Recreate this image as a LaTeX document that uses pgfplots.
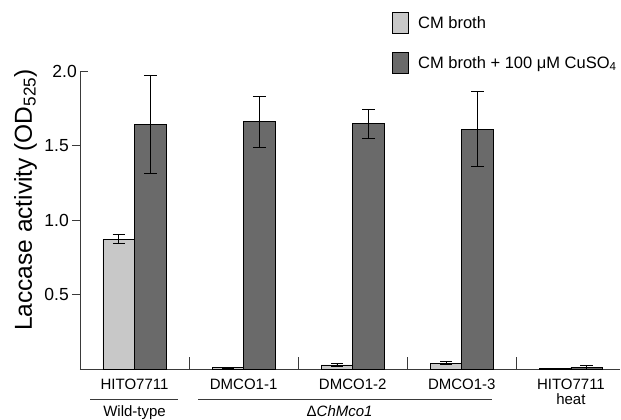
\documentclass[border=0pt]{standalone}
\usepackage{fontspec}
\setmainfont{Liberation Sans}
\usepackage{pgfplots}
\pgfplotsset{compat=1.18}
\definecolor{lightbar}{HTML}{C8C8C8}
\definecolor{darkbar}{HTML}{6A6A6A}
\definecolor{axisgray}{HTML}{3A3A3A}
\begin{document}
\begin{tikzpicture}
\begin{axis}[
  scale only axis, width=540pt, height=298pt,
  xmin=-0.5, xmax=4.45, ymin=0, ymax=2,
  axis lines=left,
  axis line style={-, axisgray, line width=0.8pt},
  every tick/.style={axisgray, line width=0.8pt},
  ytick={0.5,1,1.5}, yticklabels={0.5,1.0,1.5},
  extra y ticks={2}, extra y tick labels={2.0},
  extra y tick style={tick align=inside},
  /pgf/number format/assume math mode=true,
  y tick label style={font=\fontsize{17.5}{18}\selectfont, inner sep=0pt, xshift=-3pt},
  tick align=outside, major tick length=8pt,
  xtick={0,1,2,3,4},
  xticklabels={HITO7711,DMCO1-1,DMCO1-2,DMCO1-3,HITO7711\\heat},
  x tick label style={font=\fontsize{15}{15}\selectfont, align=center, anchor=north, inner sep=0pt, yshift=-2pt},
  major x tick style={draw=none},
  minor xtick={0.5,1.5,2.5,3.5}, minor tick length=12pt,
  minor x tick style={yshift=12pt},
  every axis y label/.style={at={(axis description cs:0,0.567)}, xshift=-48pt, rotate=90, anchor=base, font=\fontsize{24.5}{26}\selectfont},
  ylabel={Laccase activity (OD\textsubscript{525})},
  ybar=0pt, bar width=0.29,
  clip=false,
  legend style={draw=none, fill=none, inner sep=0pt, row sep=18pt,
    font=\fontsize{16.5}{17}\selectfont, at={(0.578,1.198)}, anchor=north west,
    nodes={inner sep=0pt},
    /tikz/every odd column/.append style={column sep=9pt}},
  legend cell align=left,
  legend image code/.code={\draw[#1, line width=0.8pt] (0pt,-10.5pt) rectangle (16pt,10.5pt);},
]
\addplot[fill=lightbar, draw=black, line width=0.8pt,
  error bars/.cd, y dir=both, y explicit,
  error bar style={black, line width=0.8pt},
  error mark options={rotate=90, mark size=6pt, black, line width=0.8pt}]
  coordinates {
   (0,0.87)  +- (0,0.03)
   (1,0.010) +- (0,0.003)
   (2,0.027) +- (0,0.012)
   (3,0.040) +- (0,0.012)
   (4,0.003) +- (0,0.001)
  };
\addlegendentry{CM broth}
\addplot[fill=darkbar, draw=black, line width=0.8pt,
  error bars/.cd, y dir=both, y explicit,
  error bar style={black, line width=0.8pt},
  error mark options={rotate=90, mark size=6.5pt, black, line width=0.8pt}]
  coordinates {
   (0,1.64)  += (0,0.33) -= (0,0.33)
   (1,1.66)  += (0,0.17) -= (0,0.17)
   (2,1.65)  += (0,0.09) -= (0,0.10)
   (3,1.61)  += (0,0.25) -= (0,0.25)
   (4,0.012) += (0,0.013) -= (0,0.012)
  };
\addlegendentry{CM broth + 100 μM CuSO\textsubscript{4}}
\draw[axisgray, line width=0.8pt] ([yshift=-30pt]axis cs:-0.408,0) -- ([yshift=-30pt]axis cs:0.40,0);
\draw[axisgray, line width=0.8pt] ([yshift=-30pt]axis cs:0.582,0) -- ([yshift=-30pt]axis cs:3.276,0);
\node[anchor=base, font=\fontsize{15}{15}\selectfont, inner sep=0pt] at ([yshift=-47pt]axis cs:0,0) {Wild-type};
\node[anchor=base, font=\fontsize{15}{15}\selectfont, inner sep=0pt] at ([yshift=-47pt]axis cs:1.88,0) {Δ\textit{ChMco1}};
\end{axis}
\pgfresetboundingbox
\path (-80pt,-51pt) rectangle (541pt,369pt);
\end{tikzpicture}
\end{document}
